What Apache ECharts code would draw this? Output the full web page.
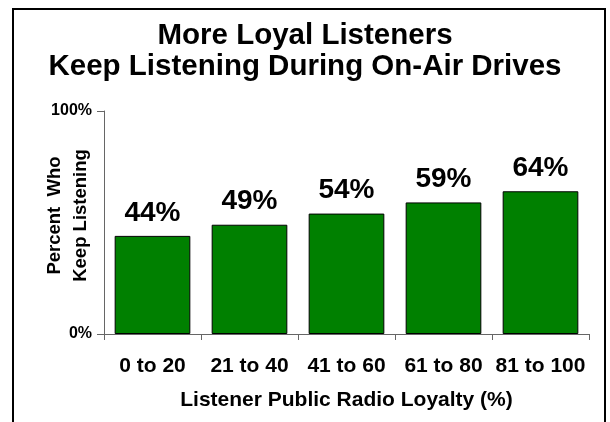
<!DOCTYPE html>
<html>
<head>
<meta charset="utf-8">
<script src="https://cdn.jsdelivr.net/npm/echarts@6/dist/echarts.min.js"></script>
<style>
  html, body { margin: 0; padding: 0; background: #fff; }
  #main { width: 610px; height: 422px; }
</style>
</head>
<body>
<div id="main"></div>
<script>
var loyaltyGroups = ['0 to 20', '21 to 40', '41 to 60', '61 to 80', '81 to 100'];
var keepListening = [44, 49, 54, 59, 64];
var yTicks = [0, 100];

var myChart = echarts.init(document.getElementById('main'));

var font = 'Arial, "Liberation Sans", sans-serif';

var option = {
    animation: false,
    backgroundColor: '#fff',
    title: {
        text: 'More Loyal Listeners\nKeep Listening During On-Air Drives',
        left: 'center',
        top: 15,
        textStyle: {
            fontFamily: font,
            fontWeight: 'bold',
            fontSize: 29.5,
            lineHeight: 31,
            color: '#000'
        }
    },
    graphic: [
        {
            type: 'rect',
            shape: { x: 13, y: 9, width: 592, height: 430 },
            style: { fill: 'none', stroke: '#000', lineWidth: 2 },
            silent: true
        }
    ],
    grid: {
        left: 104,
        right: 21,
        top: 111,
        bottom: 88,
        containLabel: false
    },
    xAxis: {
        type: 'category',
        data: loyaltyGroups,
        name: 'Listener Public Radio Loyalty (%)',
        nameLocation: 'middle',
        nameGap: 56,
        nameMoveOverlap: false,
        nameTextStyle: { fontFamily: font, fontWeight: 'bold', fontSize: 21, color: '#000' },
        axisLine: { lineStyle: { color: '#666', width: 1 } },
        axisTick: { show: true, alignWithLabel: false, length: 6, lineStyle: { color: '#666' } },
        axisLabel: {
            interval: 0, hideOverlap: false,
            fontFamily: font, fontWeight: 'bold', fontSize: 21, color: '#000', margin: 22
        }
    },
    yAxis: {
        type: 'value',
        min: yTicks[0],
        max: yTicks[1],
        interval: 100,
        name: 'Percent  Who\nKeep Listening',
        nameLocation: 'middle',
        nameGap: 10,
        nameMoveOverlap: false,
        nameRotate: 90,
        nameTextStyle: {
            fontFamily: font, fontWeight: 'bold', fontSize: 18.5, lineHeight: 26, color: '#000',
            padding: [0, 0, 0, 14]
        },
        axisLine: { show: true, lineStyle: { color: '#666', width: 1 } },
        axisTick: { show: true, length: 7, lineStyle: { color: '#666' } },
        splitLine: { show: false },
        axisLabel: {
            fontFamily: font, fontWeight: 'bold', fontSize: 16, color: '#000', margin: 12,
            formatter: '{value}%'
        }
    },
    series: [
        {
            type: 'bar',
            data: keepListening,
            barCategoryGap: '22%',
            itemStyle: { color: '#008000', borderColor: '#000', borderWidth: 1 },
            label: {
                show: true,
                position: 'top',
                distance: 9,
                formatter: '{c}%',
                fontFamily: font,
                fontWeight: 'bold',
                fontSize: 28,
                color: '#000'
            }
        }
    ]
};

myChart.setOption(option);
</script>
</body>
</html>
